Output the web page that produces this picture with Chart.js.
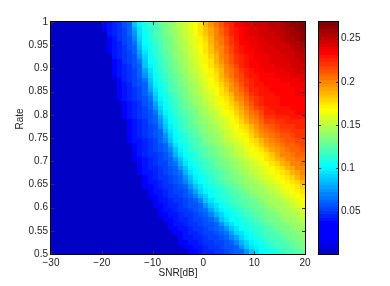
<!DOCTYPE html>
<html><head><meta charset="utf-8">
<script src="https://cdn.jsdelivr.net/npm/chart.js@4.4.1/dist/chart.umd.min.js"></script>
<style>
html,body{margin:0;padding:0;background:#fff;}
#wrap{position:relative;width:390px;height:286px;overflow:hidden;}
#wrap canvas{position:absolute;left:0;top:0;}
</style></head><body>
<div id="wrap"><canvas id="main" width="390" height="286"></canvas><canvas id="cbar" width="390" height="286"></canvas></div>
<script>
// SNR [dB] cell centres (columns)
const snrCenters = [-29.5,-28.5,-27.5,-26.5,-25.5,-24.5,-23.5,-22.5,-21.5,-20.5,-19.5,-18.5,-17.5,-16.5,-15.5,-14.5,-13.5,-12.5,-11.5,-10.5,-9.5,-8.5,-7.5,-6.5,-5.5,-4.5,-3.5,-2.5,-1.5,-0.5,0.5,1.5,2.5,3.5,4.5,5.5,6.5,7.5,8.5,9.5,10.5,11.5,12.5,13.5,14.5,15.5,16.5,17.5,18.5,19.5];
// Rate cell centres (rows, top to bottom)
const rateCenters = [0.995,0.985,0.975,0.965,0.955,0.945,0.935,0.925,0.915,0.905,0.895,0.885,0.875,0.865,0.855,0.845,0.835,0.825,0.815,0.805,0.795,0.785,0.775,0.765,0.755,0.745,0.735,0.725,0.715,0.705,0.695,0.685,0.675,0.665,0.655,0.645,0.635,0.625,0.615,0.605,0.595,0.585,0.575,0.565,0.555,0.545,0.535,0.525,0.515,0.505];
// cell values in thousandths (value = zMilli / 1000)
const zMilli = [
[0,0,0,0,0,0,0,0,0,0,20,41,46,51,56,63,85,100,108,115,121,127,133,139,144,150,156,162,168,176,186,195,203,211,219,226,232,236,240,242,244,246,248,250,252,255,258,261,264,267],
[0,0,0,0,0,0,0,0,0,0,20,40,46,50,55,62,80,97,106,113,120,126,132,138,143,149,155,161,167,174,183,192,201,209,217,224,231,235,239,241,243,245,247,249,251,254,257,260,263,266],
[0,0,0,0,0,0,0,0,0,0,0,39,45,49,54,60,75,94,105,112,119,125,131,137,142,148,154,160,166,173,182,191,200,208,216,224,230,234,237,240,242,244,246,248,250,252,254,257,260,263],
[0,0,0,0,0,0,0,0,0,0,0,37,43,48,53,59,69,90,104,111,118,123,129,135,141,146,153,158,164,170,180,189,198,206,214,222,229,233,237,239,240,242,244,246,248,250,253,256,258,261],
[0,0,0,0,0,0,0,0,0,0,0,36,42,47,52,57,64,87,102,109,116,122,128,134,140,145,151,157,163,169,177,187,196,204,212,220,227,232,235,238,239,241,243,245,246,248,250,253,256,258],
[0,0,0,0,0,0,0,0,0,0,0,20,41,46,51,56,62,82,99,107,114,121,127,133,139,144,150,156,162,168,176,185,194,202,210,218,225,231,234,236,238,240,242,243,245,246,248,251,253,255],
[0,0,0,0,0,0,0,0,0,0,0,20,39,45,50,55,61,78,95,106,113,120,125,131,137,143,148,155,160,166,173,182,191,200,208,216,224,229,232,235,237,238,240,241,243,244,246,248,251,253],
[0,0,0,0,0,0,0,0,0,0,0,0,39,45,49,54,59,73,92,104,111,118,124,130,136,141,147,153,158,164,170,180,189,198,205,213,221,227,231,234,236,237,239,240,242,243,244,246,249,251],
[0,0,0,0,0,0,0,0,0,0,0,0,37,43,48,53,58,66,89,103,110,117,122,128,134,140,145,151,157,163,169,177,186,195,203,211,219,226,230,233,235,236,238,240,241,242,243,245,247,249],
[0,0,0,0,0,0,0,0,0,0,0,0,36,42,47,51,56,63,85,100,108,115,121,127,133,139,144,149,156,161,167,174,183,192,201,209,217,224,228,232,234,236,237,239,240,241,243,244,246,248],
[0,0,0,0,0,0,0,0,0,0,0,0,20,41,46,50,55,62,80,97,106,113,120,125,131,137,142,148,154,159,165,172,181,189,198,206,214,222,227,231,233,234,236,237,238,239,241,242,244,246],
[0,0,0,0,0,0,0,0,0,0,0,0,20,39,45,49,54,60,73,92,104,111,118,123,129,135,141,146,151,157,163,169,177,186,195,203,211,218,225,228,231,233,234,235,236,238,239,240,241,243],
[0,0,0,0,0,0,0,0,0,0,0,0,0,38,44,48,53,59,66,89,103,109,116,122,127,133,139,144,150,156,161,167,174,183,191,200,208,215,223,227,230,232,233,234,235,236,237,238,239,240],
[0,0,0,0,0,0,0,0,0,0,0,0,0,37,43,47,52,56,63,82,99,107,114,120,126,131,137,142,147,154,159,165,172,180,188,197,205,212,220,225,228,230,232,232,233,234,235,236,237,238],
[0,0,0,0,0,0,0,0,0,0,0,0,0,20,41,46,51,55,62,78,95,105,112,119,124,130,135,141,146,151,157,163,168,176,185,194,202,209,217,224,227,229,231,232,233,233,234,235,236,237],
[0,0,0,0,0,0,0,0,0,0,0,0,0,20,40,45,50,54,60,71,90,104,110,117,122,128,133,139,144,149,155,160,166,173,181,189,198,205,213,220,226,229,230,231,232,233,234,235,236,237],
[0,0,0,0,0,0,0,0,0,0,0,0,0,20,39,44,49,53,58,66,87,100,107,114,120,125,131,137,142,147,153,158,163,169,176,185,194,201,209,216,223,227,229,231,231,232,233,234,235,235],
[0,0,0,0,0,0,0,0,0,0,0,0,0,0,37,43,47,51,56,62,80,95,105,111,118,123,129,134,140,144,149,155,161,166,172,181,189,197,204,212,219,225,228,229,231,232,233,233,234,235],
[0,0,0,0,0,0,0,0,0,0,0,0,0,0,36,41,46,50,55,61,73,92,104,110,116,121,127,132,137,142,147,153,158,163,169,176,185,193,200,207,215,222,226,228,230,231,231,232,233,234],
[0,0,0,0,0,0,0,0,0,0,0,0,0,0,20,40,45,49,54,59,66,87,100,107,113,120,125,130,135,140,145,150,156,161,166,172,180,188,196,203,210,217,224,227,229,230,230,231,232,232],
[0,0,0,0,0,0,0,0,0,0,0,0,0,0,20,39,45,48,53,57,63,80,95,105,111,117,122,128,133,138,143,147,153,158,163,168,176,183,191,199,206,213,220,222,224,226,227,228,228,229],
[0,0,0,0,0,0,0,0,0,0,0,0,0,0,0,38,43,47,51,56,61,75,92,103,109,115,120,125,131,136,141,145,150,155,160,165,170,178,187,194,201,208,215,218,220,222,224,225,226,227],
[0,0,0,0,0,0,0,0,0,0,0,0,0,0,0,37,42,46,50,55,59,69,87,100,107,112,119,123,128,133,138,143,147,153,157,162,167,173,181,189,197,203,210,213,217,219,222,223,224,225],
[0,0,0,0,0,0,0,0,0,0,0,0,0,0,0,36,41,46,49,54,58,63,82,95,104,111,116,121,126,131,136,141,145,150,155,159,165,169,176,185,191,199,206,209,212,215,218,220,221,223],
[0,0,0,0,0,0,0,0,0,0,0,0,0,0,0,20,40,45,48,53,56,62,75,92,103,108,114,120,124,129,134,139,143,147,153,157,162,167,172,180,187,195,201,204,208,211,214,217,219,221],
[0,0,0,0,0,0,0,0,0,0,0,0,0,0,0,20,39,43,47,51,55,60,69,87,99,106,111,117,121,126,131,136,140,144,149,154,158,163,168,174,181,189,196,201,205,208,211,214,216,218],
[0,0,0,0,0,0,0,0,0,0,0,0,0,0,0,0,37,42,46,50,54,58,63,78,94,104,109,114,120,124,128,133,138,142,146,150,155,160,164,169,176,182,190,197,201,204,207,210,213,215],
[0,0,0,0,0,0,0,0,0,0,0,0,0,0,0,0,36,41,45,49,53,56,61,71,89,99,106,111,117,121,126,130,135,139,143,147,153,156,161,165,170,176,183,190,197,201,204,207,210,212],
[0,0,0,0,0,0,0,0,0,0,0,0,0,0,0,0,20,39,44,48,51,55,59,64,82,94,104,109,114,119,123,128,132,136,141,144,148,154,157,162,166,172,177,185,191,198,202,204,207,209],
[0,0,0,0,0,0,0,0,0,0,0,0,0,0,0,0,20,38,43,46,50,53,57,62,73,89,100,106,111,116,120,125,129,134,138,142,146,150,155,158,163,167,173,178,186,192,199,202,204,206],
[0,0,0,0,0,0,0,0,0,0,0,0,0,0,0,0,0,37,41,45,49,52,55,60,66,82,95,104,109,113,118,122,127,131,135,139,143,146,151,156,159,164,168,173,180,186,192,199,201,203],
[0,0,0,0,0,0,0,0,0,0,0,0,0,0,0,0,0,20,40,44,47,50,54,58,62,75,89,100,105,111,115,120,124,128,132,136,140,144,148,153,156,160,164,168,174,180,187,192,199,202],
[0,0,0,0,0,0,0,0,0,0,0,0,0,0,0,0,0,20,39,43,46,49,53,56,60,66,82,94,103,108,112,117,121,125,129,133,137,141,145,148,153,157,161,165,169,174,181,187,192,199],
[0,0,0,0,0,0,0,0,0,0,0,0,0,0,0,0,0,0,37,41,45,48,51,54,58,62,75,89,99,105,110,114,119,123,127,131,135,139,142,145,149,154,157,161,165,169,174,181,187,194],
[0,0,0,0,0,0,0,0,0,0,0,0,0,0,0,0,0,0,20,40,43,46,50,53,56,61,69,82,94,103,107,111,116,120,124,128,132,136,140,143,146,150,155,158,162,166,170,176,181,187],
[0,0,0,0,0,0,0,0,0,0,0,0,0,0,0,0,0,0,20,38,42,45,48,51,55,58,62,73,87,97,104,109,113,118,121,125,129,133,136,140,143,147,151,155,158,162,166,170,174,181],
[0,0,0,0,0,0,0,0,0,0,0,0,0,0,0,0,0,0,0,33,40,43,46,49,53,55,59,64,78,90,99,105,110,114,118,121,125,129,133,137,140,143,147,151,155,158,162,165,169,174],
[0,0,0,0,0,0,0,0,0,0,0,0,0,0,0,0,0,0,0,20,37,41,45,48,50,54,56,61,69,82,92,102,106,111,114,119,122,126,129,133,137,140,143,147,150,155,158,161,165,169],
[0,0,0,0,0,0,0,0,0,0,0,0,0,0,0,0,0,0,0,0,20,39,43,46,49,51,55,58,62,71,85,95,103,107,111,115,120,123,126,130,133,137,141,144,147,150,155,157,161,165],
[0,0,0,0,0,0,0,0,0,0,0,0,0,0,0,0,0,0,0,0,20,37,41,45,47,50,53,56,59,63,75,89,97,104,108,111,115,120,123,127,130,134,137,141,144,147,150,154,157,161],
[0,0,0,0,0,0,0,0,0,0,0,0,0,0,0,0,0,0,0,0,0,20,39,42,45,48,51,54,56,60,66,78,90,99,104,109,112,117,120,124,127,130,134,137,141,144,146,150,154,157],
[0,0,0,0,0,0,0,0,0,0,0,0,0,0,0,0,0,0,0,0,0,20,37,40,43,46,49,51,54,57,61,69,82,92,100,105,109,113,117,120,124,127,131,134,137,141,144,146,150,154],
[0,0,0,0,0,0,0,0,0,0,0,0,0,0,0,0,0,0,0,0,0,0,20,38,41,45,47,50,53,55,59,62,71,85,94,102,105,110,113,118,120,124,127,131,134,137,141,143,146,150],
[0,0,0,0,0,0,0,0,0,0,0,0,0,0,0,0,0,0,0,0,0,0,0,20,39,42,45,48,50,53,56,59,63,73,87,95,103,106,110,114,118,121,124,128,131,134,137,141,143,146],
[0,0,0,0,0,0,0,0,0,0,0,0,0,0,0,0,0,0,0,0,0,0,0,20,37,40,43,46,49,51,54,56,60,64,75,89,97,103,107,111,114,118,121,124,128,131,134,137,141,143],
[0,0,0,0,0,0,0,0,0,0,0,0,0,0,0,0,0,0,0,0,0,0,0,0,20,38,41,44,46,49,52,54,57,61,66,78,90,97,104,107,111,115,119,121,125,128,131,134,137,141],
[0,0,0,0,0,0,0,0,0,0,0,0,0,0,0,0,0,0,0,0,0,0,0,0,0,20,39,42,45,47,50,53,55,58,62,69,80,90,99,104,108,111,115,119,121,125,128,131,134,137],
[0,0,0,0,0,0,0,0,0,0,0,0,0,0,0,0,0,0,0,0,0,0,0,0,0,20,36,39,43,46,48,50,53,55,59,62,71,82,92,100,104,108,111,115,119,122,125,128,131,134],
[0,0,0,0,0,0,0,0,0,0,0,0,0,0,0,0,0,0,0,0,0,0,0,0,0,0,20,37,40,43,46,48,51,54,56,59,62,73,85,94,100,104,109,112,116,119,122,125,128,131],
[0,0,0,0,0,0,0,0,0,0,0,0,0,0,0,0,0,0,0,0,0,0,0,0,0,0,0,20,38,41,44,46,49,51,54,56,60,63,73,87,94,102,105,109,112,116,120,122,125,128]
];
const xTicks = [-30,-20,-10,0,10,20];
const yTicks = [0.5,0.55,0.6,0.65,0.7,0.75,0.8,0.85,0.9,0.95,1];
const cbarTicks = [0.05,0.1,0.15,0.2,0.25];
const cbarRange = [0.0012, 0.2691];

const FONT = {family:"'Liberation Sans', Arial, Helvetica, sans-serif", size:10};
const TXT = '#222';
const lo = cbarRange[0], hi = cbarRange[1];
function jetColor(i){
  const t = i/63, c = a => Math.max(0, Math.min(1, a));
  const r = c(Math.min(4*t-1.5, -4*t+4.5));
  const g = c(Math.min(4*t-0.5, -4*t+3.5));
  const b = c(Math.min(4*t+0.78, -4*t+2.5));
  return 'rgb('+Math.round(r*255)+','+Math.round(g*255)+','+Math.round(b*255)+')';
}
const palette = Array.from({length:64}, (_, i) => jetColor(i));
function colorFor(v){
  let k = Math.floor((v-lo)/(hi-lo)*64);
  k = Math.max(0, Math.min(63, k));
  return palette[k];
}
function fmtNum(v){ const s = String(+(+v).toFixed(2)); return v < 0 ? '\u2212' + s.slice(1) : s; }

function drawFrame(ctx, a, xs, ys, xv, yv, len){
  ctx.save();
  ctx.lineWidth = 1;
  ctx.strokeStyle = '#333';
  ctx.beginPath();
  if (xs) xv.forEach(v => {
    const p = Math.round(xs.getPixelForValue(v)) + 0.5;
    ctx.moveTo(p, a.bottom); ctx.lineTo(p, a.bottom - len);
    ctx.moveTo(p, a.top); ctx.lineTo(p, a.top + len);
  });
  yv.forEach(v => {
    const p = Math.round(ys.getPixelForValue(v)) + 0.5;
    ctx.moveTo(a.left, p); ctx.lineTo(a.left + len, p);
    ctx.moveTo(a.right, p); ctx.lineTo(a.right - len, p);
  });
  ctx.stroke();
  ctx.strokeStyle = '#000';
  ctx.strokeRect(Math.round(a.left) - 0.5, Math.round(a.top) - 0.5, Math.round(a.right - a.left) + 1, Math.round(a.bottom - a.top) + 1);
  ctx.restore();
}

const heatPlugin = {
  id: 'heat',
  beforeDatasetsDraw(chart){
    const {ctx, chartArea:a, scales:{x, y}} = chart;
    const hx = Math.abs(snrCenters[1]-snrCenters[0])/2;
    const hy = Math.abs(rateCenters[1]-rateCenters[0])/2;
    ctx.save();
    ctx.beginPath(); ctx.rect(a.left, a.top, a.right-a.left, a.bottom-a.top); ctx.clip();
    rateCenters.forEach((r, i) => {
      const yT = Math.round(y.getPixelForValue(r + hy));
      const yB = Math.round(y.getPixelForValue(r - hy));
      snrCenters.forEach((s, j) => {
        const x0 = Math.round(x.getPixelForValue(s - hx));
        const x1 = Math.round(x.getPixelForValue(s + hx));
        ctx.fillStyle = colorFor(zMilli[i][j] / 1000);
        ctx.fillRect(x0, yT, x1 - x0, yB - yT);
      });
    });
    ctx.restore();
  },
  afterDraw(chart){
    const {ctx, chartArea:a} = chart;
    drawFrame(ctx, a, chart.scales.x, chart.scales.y, xTicks, yTicks, 3);
    // y-axis label
    ctx.save();
    ctx.font = FONT.size + 'px ' + FONT.family;
    ctx.fillStyle = TXT;
    ctx.textAlign = 'center';
    ctx.textBaseline = 'middle';
    ctx.translate(20, 119);
    ctx.rotate(-Math.PI/2);
    ctx.fillText('Rate', 0, 0);
    ctx.restore();
  }
};

const points = [];
rateCenters.forEach((r, i) => snrCenters.forEach((s, j) => points.push({x:s, y:r, v:zMilli[i][j]/1000})));

new Chart(document.getElementById('main'), {
  type: 'scatter',
  data: {datasets: [{data: points, pointRadius: 0, pointHoverRadius: 0}]},
  options: {
    responsive: false, animation: false, devicePixelRatio: 1, events: [],
    layout: {padding: {top: 22, right: 85, bottom: 0, left: 0}},
    plugins: {legend: {display: false}, tooltip: {enabled: false}},
    scales: {
      x: {
        type: 'linear', min: -30, max: 20,
        afterBuildTicks: s => { s.ticks = xTicks.map(v => ({value: v})); },
        afterFit: s => { s.height = 32; },
        ticks: {font: FONT, color: TXT, padding: 3, maxRotation: 0, autoSkip: false, callback: v => fmtNum(v)},
        grid: {display: false, drawTicks: false},
        border: {display: false},
        title: {display: true, text: 'SNR[dB]', font: FONT, color: TXT, padding: {top: 0, bottom: 7}}
      },
      y: {
        type: 'linear', min: 0.5, max: 1,
        afterBuildTicks: s => { s.ticks = yTicks.map(v => ({value: v})); },
        afterFit: s => { s.width = 51; },
        ticks: {font: FONT, color: TXT, padding: 3, autoSkip: false, callback: v => fmtNum(v)},
        grid: {display: false, drawTicks: false},
        border: {display: false},
        title: {display: false}
      }
    }
  },
  plugins: [heatPlugin]
});

const cbarPlugin = {
  id: 'cbarFrame',
  afterDraw(chart){
    drawFrame(chart.ctx, chart.chartArea, null, chart.scales.y, [], cbarTicks, 2);
  }
};

new Chart(document.getElementById('cbar'), {
  type: 'bar',
  data: {labels: [''], datasets: [{
    data: [cbarRange],
    borderWidth: 0, barPercentage: 1, categoryPercentage: 1,
    backgroundColor: (c) => {
      const ch = c.chart, ys = ch.scales.y;
      if (!ch.chartArea || !ys) return palette[0];
      const yb = ys.getPixelForValue(lo), yt = ys.getPixelForValue(hi);
      const g = ch.ctx.createLinearGradient(0, yb, 0, yt);
      for (let i = 0; i < 64; i++) {
        g.addColorStop(i/64, palette[i]);
        g.addColorStop(Math.min(1, (i+1)/64 - 1e-6), palette[i]);
      }
      return g;
    }
  }]},
  options: {
    responsive: false, animation: false, devicePixelRatio: 1, events: [],
    layout: {padding: {top: 22, right: 0, bottom: 32, left: 319}},
    plugins: {legend: {display: false}, tooltip: {enabled: false}},
    scales: {
      x: {display: false},
      y: {
        position: 'right', min: lo, max: hi,
        afterBuildTicks: s => { s.ticks = cbarTicks.map(v => ({value: v})); },
        afterFit: s => { s.width = 52; },
        ticks: {font: FONT, color: TXT, padding: 3, autoSkip: false, callback: v => fmtNum(v)},
        grid: {display: false, drawTicks: false},
        border: {display: false}
      }
    }
  },
  plugins: [cbarPlugin]
});
</script>
</body></html>
